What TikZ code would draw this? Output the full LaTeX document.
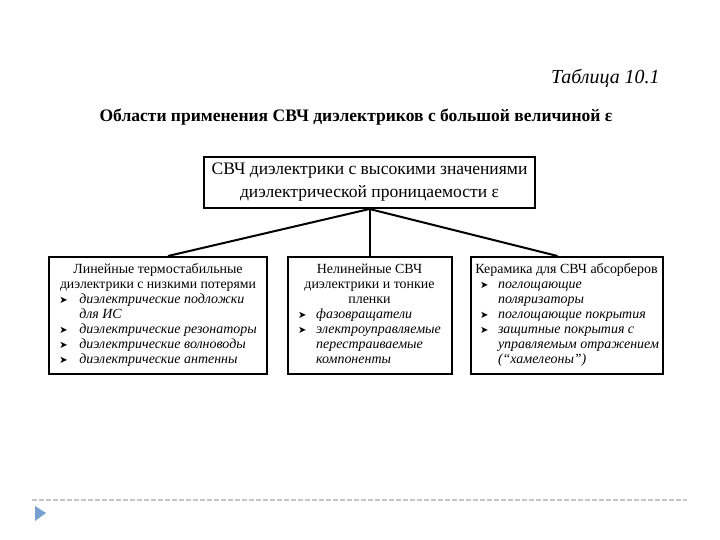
\documentclass[tikz,border=0pt]{standalone}
\usepackage{fontspec}
\setmainfont{Liberation Serif}
\newfontfamily\arrowfont{DejaVu Sans}
\usetikzlibrary{positioning}
\definecolor{slideblue}{RGB}{120,160,208}

\newcommand{\blt}{{\arrowfont\fontsize{5}{5}\selectfont ➤}}
\newcommand{\hd}[1]{\multicolumn{2}{@{}c@{}}{#1}\\}
\newcommand{\itm}[1]{\blt & \itshape #1\\}
\newcommand{\cnt}[1]{ & \itshape #1\\}

\begin{document}
\begin{tikzpicture}[
    x=0.5bp, y=-0.5bp,
    box/.style={rectangle, draw, line width=1bp, inner sep=0pt, align=center},
    group/.style={box, minimum height=58.5bp, font=\fontsize{7}{7.5}\selectfont},
    link/.style={line width=1bp}
]
\useasboundingbox (0,0) rectangle (720,540);
\node[anchor=east, inner sep=0pt, font=\fontsize{10}{11}\selectfont\itshape] (tab) at (660,78) {Таблица 10.1};
\node[font=\fontsize{8.8}{11}\selectfont\bfseries] (title) at (356,117)
  {Области применения СВЧ диэлектриков с большой величиной ε};
\node[box, minimum width=165.5bp, minimum height=25.5bp,
      font=\fontsize{8.8}{11.5}\selectfont] (top) at (369.5,182.5)
  {СВЧ диэлектрики с высокими значениями\\диэлектрической проницаемости ε};
% three groups
\node[group, minimum width=82bp, below=23.5bp of top] (mid)
  {\begin{tabular}{@{}p{9bp}@{}l@{}}
   \hd{Нелинейные СВЧ}
   \hd{диэлектрики и тонкие}
   \hd{пленки}
   \itm{фазовращатели}
   \itm{электроуправляемые}
   \cnt{перестраиваемые}
   \cnt{компоненты}
   \end{tabular}};
\node[group, minimum width=108.5bp, left=9.5bp of mid] (lin)
  {\begin{tabular}{@{}p{10bp}@{}l@{}}
   \hd{Линейные термостабильные}
   \hd{\fontsize{6.9}{7.5}\selectfont диэлектрики с низкими потерями}
   \itm{диэлектрические подложки}
   \cnt{для ИС}
   \itm{диэлектрические резонаторы}
   \itm{диэлектрические волноводы}
   \itm{диэлектрические антенны}
   \end{tabular}};
\node[group, minimum width=96bp, right=8.5bp of mid] (cer)
  {\begin{tabular}{@{\hspace{3bp}}p{9bp}@{}l@{}}
   \hd{Керамика для СВЧ абсорберов}
   \itm{поглощающие}
   \cnt{поляризаторы}
   \itm{поглощающие покрытия}
   \itm{защитные покрытия с}
   \cnt{управляемым отражением}
   \cnt{(“хамелеоны”)}
   \end{tabular}};
\draw[link] (top.south) -- ([xshift=5bp]lin.north);
\draw[link] (top.south) -- (mid.north);
\draw[link] (top.south) -- ([xshift=-4.5bp]cer.north);
% slide footer
\draw[gray!45, line width=0.8bp, dash pattern=on 2.5bp off 1bp] (32,500) -- (687,500);
\fill[slideblue] (35,506) -- (46,513) -- (35,521) -- cycle;
\end{tikzpicture}
\end{document}
